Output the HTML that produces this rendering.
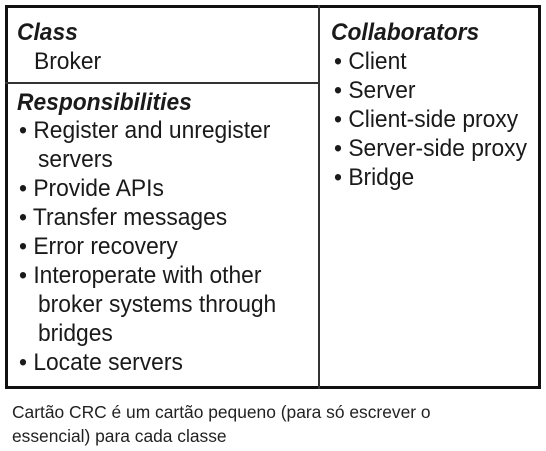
<!DOCTYPE html>
<html><head><meta charset="utf-8"><style>
body{margin:0;width:546px;height:451px;background:#fff;position:relative;overflow:hidden;font-family:"Liberation Sans",sans-serif;color:#1a1a1a}
.box{position:absolute;left:5px;top:5px;width:530px;height:378px;border:3px solid #111}
.v{position:absolute;left:318px;top:5px;width:2px;height:384px;background:#333}
.h{position:absolute;left:5px;top:82px;width:314px;height:2px;background:#333}
.t{position:absolute;font-size:24px;line-height:29px;white-space:nowrap;transform:scaleX(0.95);transform-origin:0 0}
.b{font-weight:bold;font-style:italic}
.cap{position:absolute;left:12px;font-family:"Liberation Sans",sans-serif;font-size:17.4px;color:#222;white-space:nowrap}
</style></head><body>
<div class="box"></div><div class="v"></div><div class="h"></div>
<div class="t b" style="left:17px;top:18px">Class</div>
<div class="t" style="left:34px;top:47px">Broker</div>
<div class="t b" style="left:17px;top:88px">Responsibilities</div>
<div class="t" style="left:19px;top:116px">• Register and unregister<br>&nbsp;&nbsp;&nbsp;servers<br>• Provide APIs<br>• Transfer messages<br>• Error recovery<br>• Interoperate with other<br>&nbsp;&nbsp;&nbsp;broker systems through<br>&nbsp;&nbsp;&nbsp;bridges<br>• Locate servers</div>
<div class="t b" style="left:331px;top:18px">Collaborators</div>
<div class="t" style="left:334px;top:47px">• Client<br>• Server<br>• Client-side proxy<br>• Server-side proxy<br>• Bridge</div>
<div class="cap" style="top:402px">Cartão CRC é um cartão pequeno (para só escrever o</div>
<div class="cap" style="top:426px">essencial) para cada classe</div>
</body></html>
